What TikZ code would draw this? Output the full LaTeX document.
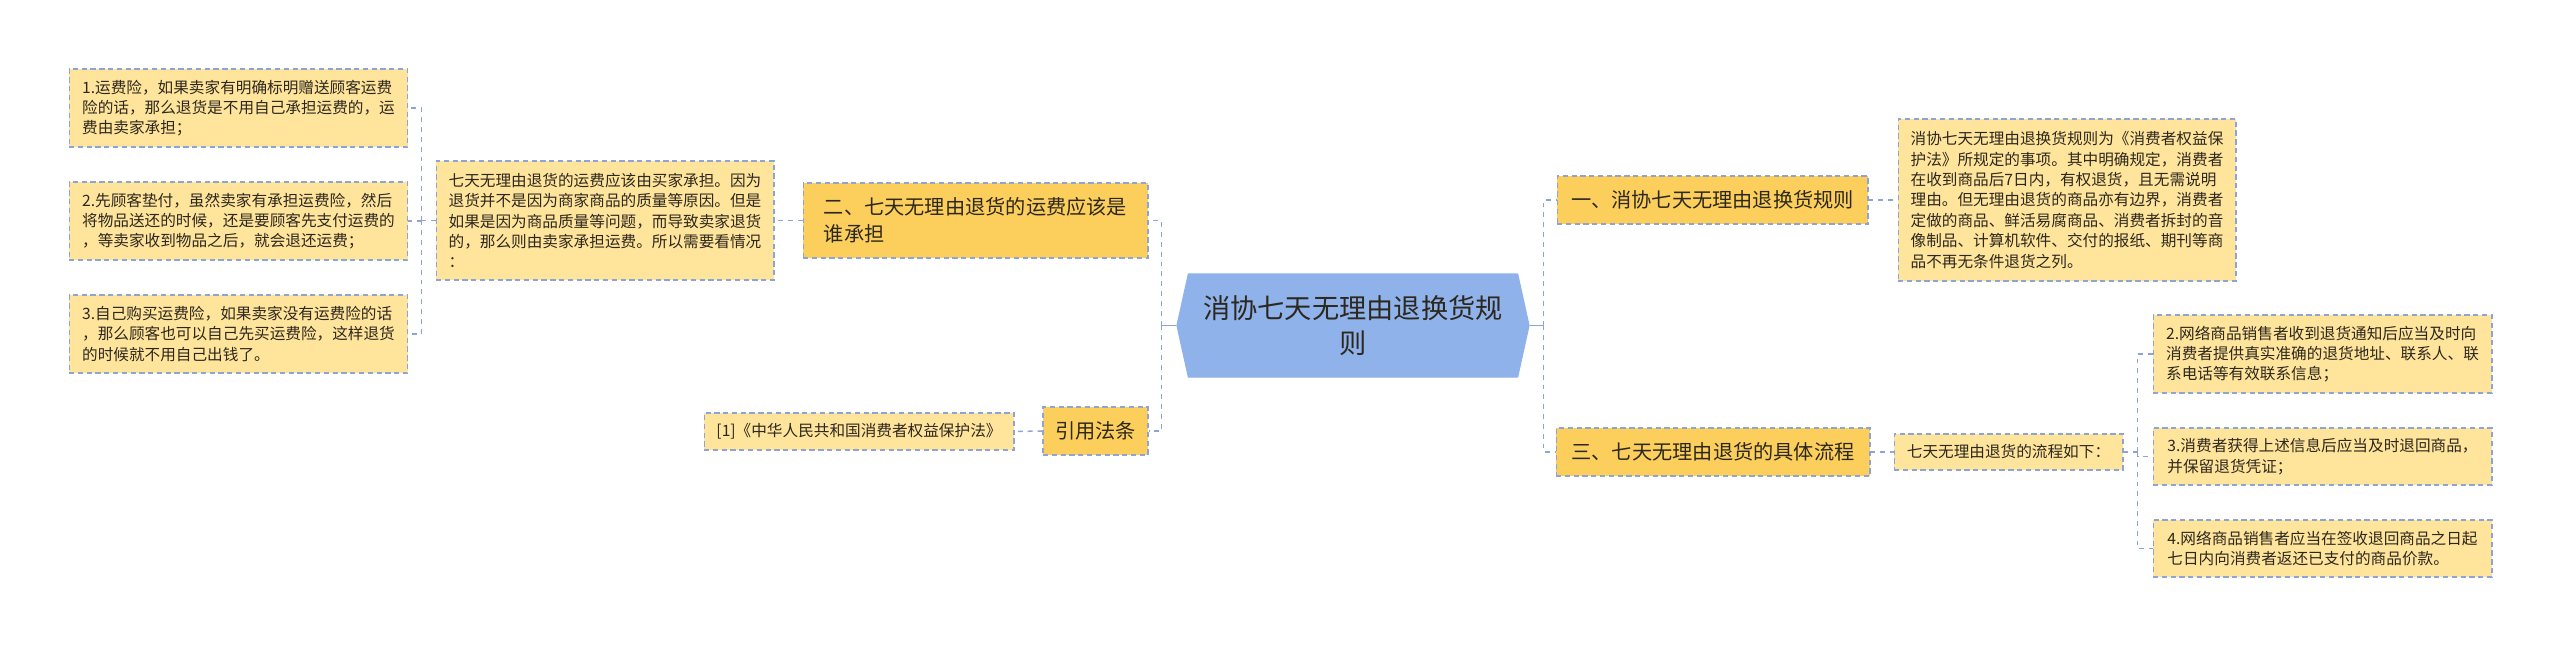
\documentclass[tikz,border=0pt]{standalone}
\usepackage{fontspec}
\setmainfont{Noto Sans CJK SC}
\usetikzlibrary{shapes.symbols,calc}
\definecolor{secfill}{RGB}{252,207,92}
\definecolor{leaffill}{RGB}{255,228,156}
\definecolor{rootfill}{RGB}{143,178,235}
\definecolor{edgeblue}{RGB}{140,164,214}
\definecolor{txt}{RGB}{45,40,30}
\tikzset{every picture/.style={line width=0.75pt}}

\begin{document}
\begin{tikzpicture}[x=0.02cm, y=-0.02cm,
    leaf/.style={draw=edgeblue, line width=0.6pt, dash pattern=on 3pt off 2pt, fill=leaffill,
                 text=txt, align=left, inner sep=0pt, font=\fontsize{8.9}{11.6}\selectfont},
    sec/.style={draw=edgeblue, line width=0.6pt, dash pattern=on 3pt off 2pt, fill=secfill,
                text=txt, align=left, inner sep=0pt, font=\fontsize{11.5}{15.5}\selectfont},
    link/.style={draw=edgeblue, line width=0.85pt, dash pattern=on 2.8pt off 2.8pt},
    stub/.style={draw=edgeblue, line width=0.85pt}]
    \useasboundingbox (0,0) rectangle (2560,647);

    % 中心主题
    \node[shape=signal, signal to=west and east, signal pointer angle=155, fill=rootfill, draw=rootfill,
          minimum width=7.04cm, minimum height=2.06cm, inner sep=0pt, align=center, text=txt,
          font=\fontsize{15.5}{20}\selectfont] (root) at (1353,325.5) {消协七天无理由退换货规\\则};

    % 左侧分支
    \node[sec, minimum width=6.9cm, minimum height=1.5cm] (sec2) at (975.5,220.5)
        {二、七天无理由退货的运费应该是\\谁承担};
    \node[sec, minimum width=2.1cm, minimum height=0.96cm] (cite) at (1095.5,431) {引用法条};
    \node[leaf, minimum width=6.2cm, minimum height=0.74cm] (ref1) at (859,431.5)
        {[1]《中华人民共和国消费者权益保护法》};
    \node[leaf, minimum width=6.76cm, minimum height=2.38cm] (mid) at (605,220.5)
        {七天无理由退货的运费应该由买家承担。因为\\退货并不是因为商家商品的质量等原因。但是\\如果是因为商品质量等问题，而导致卖家退货\\的，那么则由卖家承担运费。所以需要看情况\\：};
    \node[leaf, minimum width=6.78cm, minimum height=1.56cm] (lA) at (238.5,108)
        {1.运费险，如果卖家有明确标明赠送顾客运费\\险的话，那么退货是不用自己承担运费的，运\\费由卖家承担；};
    \node[leaf, minimum width=6.78cm, minimum height=1.56cm] (lB) at (238.5,221)
        {2.先顾客垫付，虽然卖家有承担运费险，然后\\将物品送还的时候，还是要顾客先支付运费的\\，等卖家收到物品之后，就会退还运费；};
    \node[leaf, minimum width=6.78cm, minimum height=1.56cm] (lC) at (238.5,334)
        {3.自己购买运费险，如果卖家没有运费险的话\\，那么顾客也可以自己先买运费险，这样退货\\的时候就不用自己出钱了。};

    % 右侧分支
    \node[sec, minimum width=6.22cm, minimum height=0.96cm] (sec1) at (1712.5,200)
        {一、消协七天无理由退换货规则};
    \node[leaf, minimum width=6.76cm, minimum height=3.24cm] (rtext) at (2067,200)
        {消协七天无理由退换货规则为《消费者权益保\\护法》所规定的事项。其中明确规定，消费者\\在收到商品后7日内，有权退货，且无需说明\\理由。但无理由退货的商品亦有边界，消费者\\定做的商品、鲜活易腐商品、消费者拆封的音\\像制品、计算机软件、交付的报纸、期刊等商\\品不再无条件退货之列。};
    \node[sec, minimum width=6.28cm, minimum height=0.96cm] (sec3) at (1713,452)
        {三、七天无理由退货的具体流程};
    \node[leaf, minimum width=4.58cm, minimum height=0.72cm] (flow) at (2008.5,452)
        {七天无理由退货的流程如下：};
    \node[leaf, minimum width=6.78cm, minimum height=1.56cm] (rA) at (2322.5,354)
        {2.网络商品销售者收到退货通知后应当及时向\\消费者提供真实准确的退货地址、联系人、联\\系电话等有效联系信息；};
    \node[leaf, minimum width=6.78cm, minimum height=1.14cm] (rB) at (2322.5,456.5)
        {3.消费者获得上述信息后应当及时退回商品，\\并保留退货凭证；};
    \node[leaf, minimum width=6.78cm, minimum height=1.14cm] (rC) at (2322.5,548.5)
        {4.网络商品销售者应当在签收退回商品之日起\\七日内向消费者返还已支付的商品价款。};

    % 连线：左侧
    \draw[stub] (root.west) -- ++(-15,0) coordinate (lt);
    \draw[link] (lt) |- (sec2.east);
    \draw[link] (lt) |- (cite.east);
    \draw[link] (cite.west) -- (ref1.east);
    \draw[link] (sec2.west) -- (mid.east);
    \draw[link] (mid.west) -- ++(-14,0) coordinate (mt);
    \draw[link] (mt) |- (lA.east);
    \draw[link] (mt) |- (lB.east);
    \draw[link] (mt) |- (lC.east);

    % 连线：右侧
    \draw[stub] (root.east) -- ++(14,0) coordinate (rt);
    \draw[link] (rt) |- (sec1.west);
    \draw[link] (rt) |- (sec3.west);
    \draw[link] (sec1.east) -- (rtext.west);
    \draw[link] (sec3.east) -- (flow.west);
    \draw[link] (flow.east) -- ++(14,0) coordinate (ft);
    \draw[link] (ft) |- (rA.west);
    \draw[link] (ft) |- (rB.west);
    \draw[link] (ft) |- (rC.west);

\end{tikzpicture}
\end{document}
